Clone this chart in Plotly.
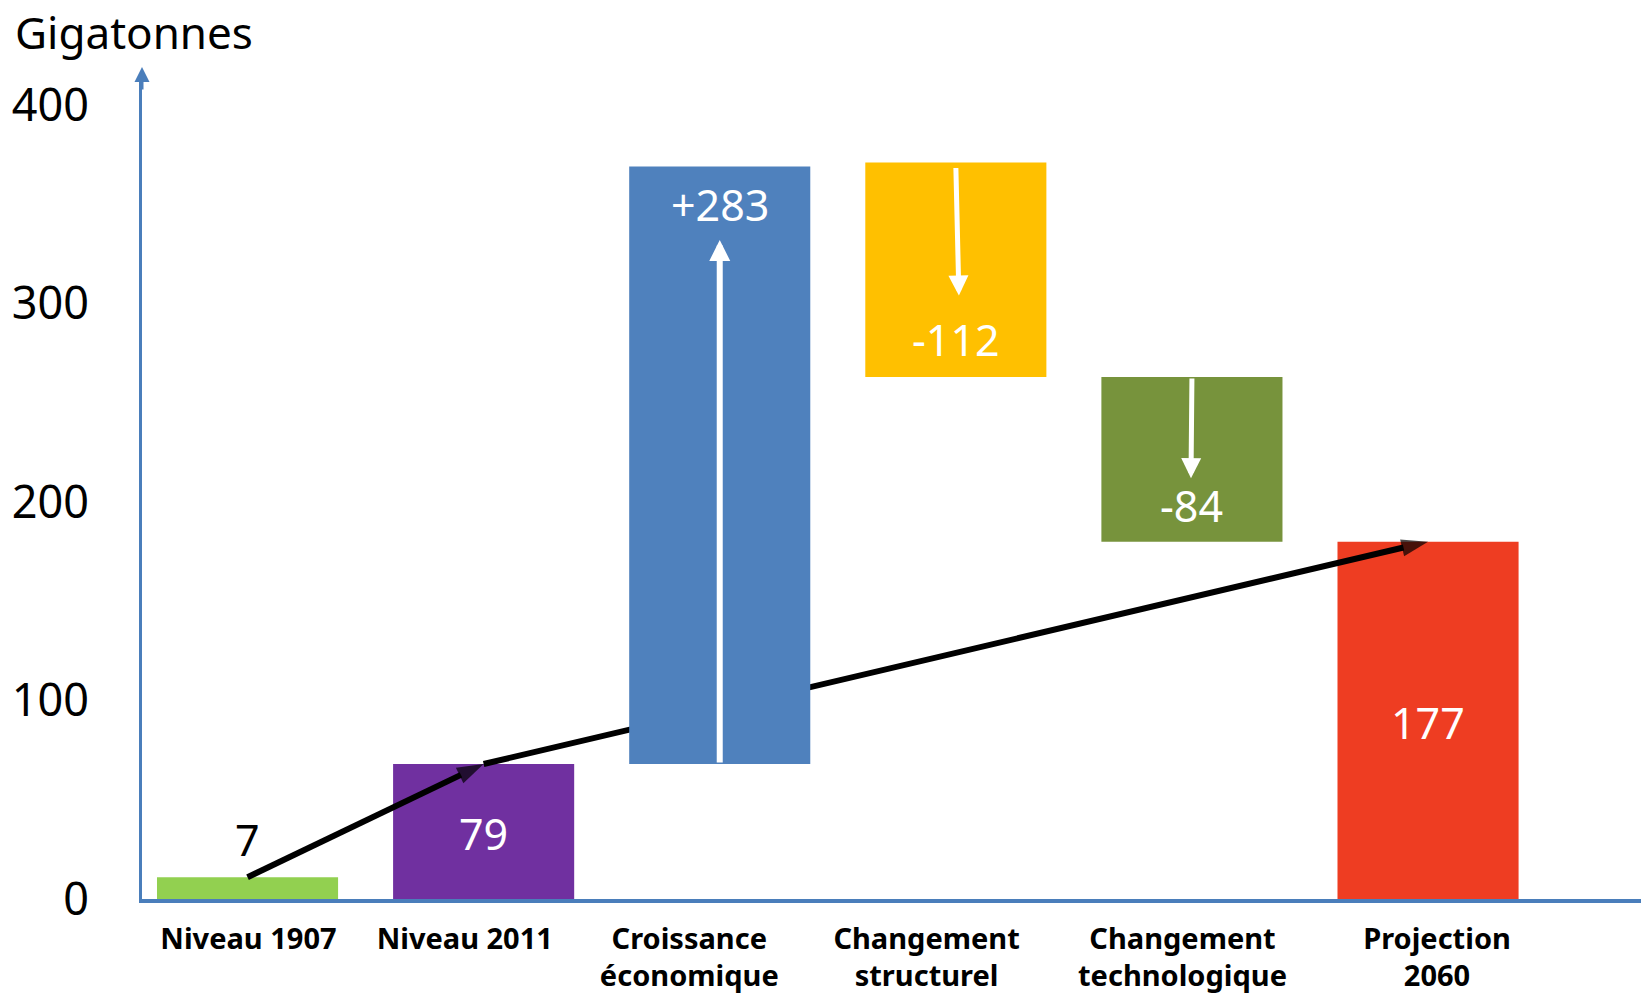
import plotly.graph_objects as go

# ---- data ----
categories = ["Niveau 1907", "Niveau 2011", "Croissance<br>économique",
              "Changement<br>structurel", "Changement<br>technologique", "Projection<br>2060"]
bar_base = [0, 0, 68, 263, 180, 0]
bar_top = [11, 68, 369, 371, 263, 180]
value_labels = ["7", "79", "+283", "-112", "-84", "177"]
y_ticks = [0, 100, 200, 300, 400]

# white arrows inside the change bars
inner_arrow_tail_x = [2.0, 3.0, 4.0]
inner_arrow_tip_x = [2.0, 3.013, 3.996]
inner_arrow_tail_y = [68, 369, 263]
inner_arrow_tip_y = [332, 304, 212]

# ---- styling / layout ----
bar_colors = ["#92D050", "#7030A0", "#4F81BD", "#FFC000", "#77933C", "#EE3D22"]
label_colors = ["black", "white", "white", "white", "white", "white"]
label_y = [30, 33, 350, 282, 198, 89]
tick_offset = [0.004, -0.08, -0.129, -0.124, -0.04, 0.038]
axis_color = "#4A7EBB"
bar_width = 0.767

W, H = 1641, 995
left, right, top, bottom = 142, 0, 80, 96
y0_px = H - bottom
px_per_unit = 1.985
y_max = (y0_px - top) / px_per_unit
x_min = -0.447
x_max = x_min + (W - left - right) / 236.1

xs = list(range(len(categories)))
front = [2]  # bar drawn above the flow line
back = [i for i in xs if i not in front]

fig = go.Figure()

fig.add_trace(go.Bar(
    x=[xs[i] for i in back],
    y=[bar_top[i] - bar_base[i] for i in back],
    base=[bar_base[i] for i in back],
    marker=dict(color=[bar_colors[i] for i in back], line=dict(width=0)),
    width=bar_width, showlegend=False, hoverinfo="skip",
))

# flow arrows (black)
for a, b in [(0, 1), (1, 5)]:
    fig.add_trace(go.Scatter(
        x=[xs[a], xs[b]], y=[bar_top[a], bar_top[b]],
        mode="lines+markers",
        line=dict(color="black", width=6),
        marker=dict(symbol=["circle", "arrow"], size=[0, 28], color="black",
                    angleref="previous", line=dict(width=0)),
        showlegend=False, hoverinfo="skip",
    ))

# front bar on an overlay subplot
fig.add_trace(go.Bar(
    x=[xs[i] for i in front],
    y=[bar_top[i] - bar_base[i] for i in front],
    base=[bar_base[i] for i in front],
    marker=dict(color=[bar_colors[i] for i in front], line=dict(width=0)),
    width=bar_width, showlegend=False, hoverinfo="skip",
    xaxis="x2", yaxis="y2",
))

annotations = []
for i in xs:
    annotations.append(dict(
        x=xs[i], y=label_y[i], xref="x", yref="y", text=value_labels[i],
        showarrow=False, font=dict(family="Noto Sans", size=43, color=label_colors[i]),
    ))

for k in range(len(inner_arrow_tip_x)):
    w = 6 if k == 0 else 5
    annotations.append(dict(
        x=inner_arrow_tip_x[k], y=inner_arrow_tip_y[k],
        ax=inner_arrow_tail_x[k], ay=inner_arrow_tail_y[k],
        xref="x", yref="y", axref="x", ayref="y", text="",
        showarrow=True, arrowhead=2, arrowsize=0.7 if k == 0 else 0.8,
        arrowwidth=w, arrowcolor="white", standoff=0,
    ))

# y-axis arrow head
annotations.append(dict(
    x=0, y=1 + (top - 67) / (y0_px - top), xref="paper", yref="paper",
    ax=0, ay=24, text="", showarrow=True, arrowhead=2, arrowsize=1,
    arrowwidth=3, arrowcolor=axis_color, standoff=0,
))

# axis title
annotations.append(dict(
    x=(13 - left) / (W - left - right), y=(y0_px - 0) / (y0_px - top),
    xref="paper", yref="paper", xanchor="left", yanchor="top",
    text="Gigatonnes", showarrow=False,
    font=dict(family="Noto Sans", size=44, color="black"),
))

fig.update_layout(
    width=W, height=H,
    margin=dict(l=left, r=right, t=top, b=bottom, pad=0),
    paper_bgcolor="white", plot_bgcolor="white",
    barmode="overlay",
    annotations=annotations,
    xaxis=dict(
        range=[x_min, x_max],
        tickvals=[xs[i] + tick_offset[i] for i in xs],
        ticktext=categories,
        tickfont=dict(family="Noto Sans", size=29, color="black", weight=700),
        showline=True, linecolor=axis_color, linewidth=3.5,
        showgrid=False, zeroline=False, ticks="", ticklabelstandoff=11,
        fixedrange=True,
    ),
    yaxis=dict(
        range=[0, y_max],
        tickvals=y_ticks,
        tickfont=dict(family="Noto Sans", size=45, color="black"),
        showline=True, linecolor=axis_color, linewidth=3,
        showgrid=False, zeroline=False, ticks="", ticklabelstandoff=41,
        fixedrange=True,
    ),
    xaxis2=dict(range=[x_min, x_max], overlaying="x", visible=False, fixedrange=True),
    yaxis2=dict(range=[0, y_max], overlaying="y", visible=False, fixedrange=True),
)

fig.write_html("out.html", config={"displayModeBar": False})
